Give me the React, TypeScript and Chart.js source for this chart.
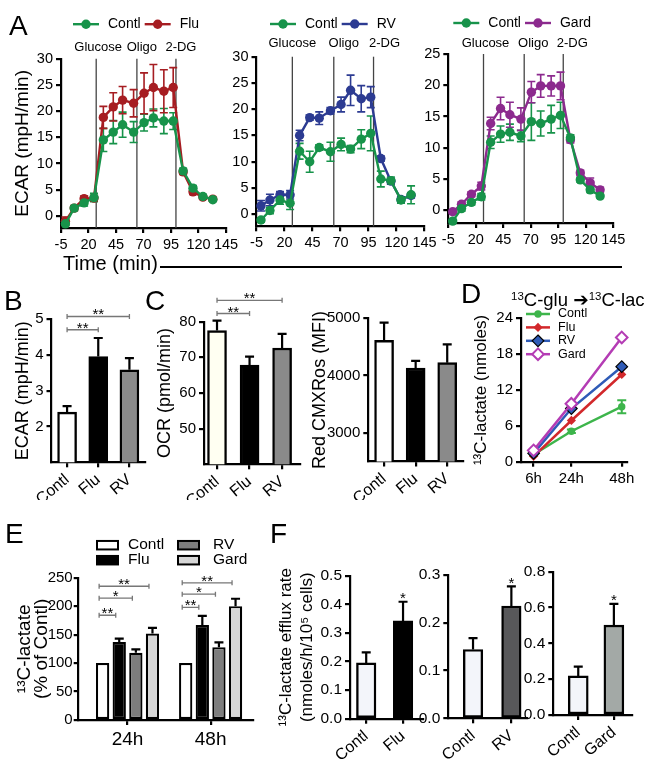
import React, { useEffect, useRef } from "react";
import { Chart, registerables } from "chart.js";

Chart.register(...registerables);

const FONT = "'Liberation Sans', Arial, Helvetica, sans-serif";

// ---------------- Panel A: ECAR time courses ----------------
const timeMin = [-1, 7, 16, 25, 33.5, 42.5, 51, 61, 70.5, 79, 88.5, 97, 106, 115, 124, 133];
const injectionTimes = [27, 64, 99.5];
const injectionLabels = ["Glucose", "Oligo", "2-DG"];
const timeTicks = [-5, 20, 45, 70, 95, 120, 145];
const ecarTicksA12 = [0, 5, 10, 15, 20, 25, 30];
const ecarTicksA3 = [0, 5, 10, 15, 20, 25];

const a1Contl = [-1.5, 1.5, 2.5, 3.5, 14.5, 16.0, 17.4, 16.0, 17.8, 18.7, 18.1, 18.1, 8.6, 5.3, 3.7, 3.1];
const a1ContlErr = [0.3, 0.5, 0.6, 0.8, 2.2, 2.2, 2.4, 2.0, 1.6, 1.7, 2.4, 1.6, 0.5, 0.5, 0.4, 0.3];
const a1Flu = [-1.0, 1.5, 3.3, 3.4, 18.8, 20.8, 22.1, 21.5, 23.4, 24.5, 23.8, 24.5, 8.4, 4.6, 3.6, 3.2];
const a1FluErr = [0.8, 0.4, 0.5, 0.5, 2.1, 2.7, 2.6, 2.6, 3.9, 4.4, 4.1, 3.8, 0.5, 0.5, 0.4, 0.3];

const a2Contl = [-1.1, 0.7, 2.7, 2.1, 12.0, 10.0, 12.7, 11.9, 13.3, 12.4, 14.3, 15.4, 6.7, 6.4, 2.7, 3.7];
const a2ContlErr = [0.4, 0.6, 0.8, 1.2, 1.5, 2.0, 0.5, 1.8, 1.2, 0.7, 1.8, 3.3, 1.5, 0.7, 0.6, 1.7];
const a2RV = [1.6, 2.7, 3.7, 3.7, 15.0, 18.4, 18.3, 19.7, 20.9, 23.6, 22.0, 22.3, 10.6, 6.3, 2.8, 3.6];
const a2RVErr = [1.0, 1.1, 0.6, 0.8, 1.0, 0.5, 1.2, 0.6, 1.4, 2.9, 2.5, 2.0, 0.5, 0.5, 0.5, 0.5];

const a3Contl = [-1.7, 0.3, 1.3, 2.2, 10.9, 12.2, 12.5, 11.9, 14.2, 13.9, 14.6, 15.2, 11.6, 4.9, 3.3, 2.3];
const a3ContlErr = [0.3, 0.4, 0.4, 0.5, 1.0, 1.3, 1.3, 0.9, 3.0, 2.0, 2.2, 2.1, 0.5, 0.4, 0.4, 0.3];
const a3Gard = [-0.2, 1.0, 2.6, 3.9, 13.9, 16.3, 15.3, 14.6, 18.9, 19.9, 19.9, 19.9, 11.3, 6.0, 4.4, 3.3];
const a3GardErr = [0.3, 0.4, 0.4, 0.6, 1.0, 1.8, 2.0, 1.8, 1.7, 1.8, 1.6, 2.2, 0.5, 0.4, 0.8, 0.4];

// ---------------- Panels B / C ----------------
const bcCats = ["Contl", "Flu", "RV"];
const bEcar = [2.4, 3.95, 3.58];
const bEcarErr = [0.17, 0.52, 0.33];
const bTicks = [2, 3, 4, 5];
const c1Ocr = [77.5, 67.8, 72.6];
const c1OcrErr = [2.8, 2.4, 4.0];
const c1Ticks = [50, 60, 70, 80];
const c2Mfi = [4615, 4130, 4225];
const c2MfiErr = [310, 125, 320];
const c2Ticks = [3000, 4000, 5000];

// ---------------- Panel D ----------------
const dHours = [6, 24, 48];
const dHourLabels = ["6h", "24h", "48h"];
const dTicks = [0, 6, 12, 18, 24];
const dContl = [1.2, 5.1, 9.2];
const dContlErr = [0.2, 0.3, 1.1];
const dFlu = [0.9, 6.9, 14.6];
const dRV = [1.4, 8.9, 15.9];
const dGard = [1.9, 9.7, 20.8];

// ---------------- Panel E ----------------
const eGroups = ["24h", "48h"];
const eContl = [100, 100];
const eFlu = [137, 167];
const eFluErr = [6, 16];
const eRV = [118, 128];
const eRVErr = [6, 8.5];
const eGard = [152, 200];
const eGardErr = [10, 13];
const eTicks = [0, 50, 100, 150, 200, 250];

// ---------------- Panel F ----------------
const f1Cats = ["Contl", "Flu"];
const f1Vals = [0.195, 0.342];
const f1Err = [0.037, 0.067];
const f1Ticks = [0, 0.1, 0.2, 0.3, 0.4, 0.5];
const f2Cats = ["Contl", "RV"];
const f2Vals = [0.144, 0.235];
const f2Err = [0.024, 0.041];
const f2Ticks = [0, 0.1, 0.2, 0.3];
const f3Cats = ["Contl", "Gard"];
const f3Vals = [0.218, 0.502];
const f3Err = [0.052, 0.118];
const f3Ticks = [0, 0.2, 0.4, 0.6, 0.8];

// ---------------- colours ----------------
const GREEN_A = "#17934a";
const RED_A = "#a61d22";
const BLUE_A = "#2c3b92";
const PURPLE_A = "#8c2a8e";
const GREEN_D = "#3db54b";
const RED_D = "#d2282b";
const BLUE_D = "#2f5bb7";
const PURPLE_D = "#b43cb4";

type Box = { x: number; y: number; w: number; h: number };
type Plot = { l: number; t: number; r: number; b: number };

function frame(box: Box, plot: Plot) {
  return {
    layout: { padding: { top: plot.t - box.y, right: box.x + box.w - plot.r, left: 0, bottom: 0 } },
    yWidth: plot.l - box.x,
    xHeight: box.y + box.h - plot.b,
  };
}

function axisLines(width: number, tickLen = 5) {
  return {
    border: { display: true, color: "#000", width },
    grid: {
      display: true,
      drawOnChartArea: false,
      drawTicks: true,
      tickLength: tickLen,
      color: "#000",
      lineWidth: width,
      offset: false,
    },
  };
}

function yScale(o: any) {
  const lh = o.titleLH ?? 1.2;
  return {
    type: "linear",
    position: "left",
    min: o.min,
    max: o.max,
    ...axisLines(2.2, o.tickLen ?? 5),
    afterBuildTicks: (ax: any) => {
      ax.ticks = o.ticks.map((v: number) => ({ value: v }));
    },
    afterFit: (ax: any) => {
      ax.width = o.fitWidth;
    },
    ticks: {
      color: "#000",
      font: { family: FONT, size: o.size },
      padding: o.pad ?? 3,
      callback: (v: any) => (o.fmt ? o.fmt(v) : String(v)),
    },
    title: o.title
      ? {
          display: true,
          text: o.title,
          color: "#000",
          font: { family: FONT, size: o.titleSize, lineHeight: lh },
          padding: { top: o.titleCenter - o.boxX - (o.titleSize * lh) / 2, bottom: 0 },
        }
      : { display: false },
  };
}

function xScale(o: any) {
  return {
    type: "linear",
    position: "bottom",
    min: o.min,
    max: o.max,
    offset: false,
    ...axisLines(2.2),
    afterBuildTicks: (ax: any) => {
      ax.ticks = o.ticks.map((v: number) => ({ value: v }));
    },
    afterFit: (ax: any) => {
      ax.height = o.fitHeight;
    },
    ticks: {
      color: "#000",
      font: { family: FONT, size: o.size },
      padding: 3,
      autoSkip: false,
      maxRotation: o.rotation || 0,
      minRotation: o.rotation || 0,
      callback: (v: any) => (o.label ? o.label(v) : String(v)),
    },
  };
}

function drawMarker(ctx: CanvasRenderingContext2D, m: any, x: number, y: number) {
  ctx.beginPath();
  if (m.shape === "diamond") {
    ctx.moveTo(x, y - m.r);
    ctx.lineTo(x + m.r, y);
    ctx.lineTo(x, y + m.r);
    ctx.lineTo(x - m.r, y);
    ctx.closePath();
  } else {
    ctx.arc(x, y, m.r, 0, Math.PI * 2);
  }
  ctx.fillStyle = m.fill;
  ctx.fill();
  if (m.stroke) {
    ctx.strokeStyle = m.stroke;
    ctx.lineWidth = m.strokeW;
    ctx.stroke();
  }
}

function rawVal(raw: any) {
  return typeof raw === "number" ? raw : raw.y;
}

function makeDecor(d: any) {
  return {
    id: "decor",
    beforeDatasetsDraw(chart: any) {
      const ctx = chart.ctx as CanvasRenderingContext2D;
      const ca = chart.chartArea;
      const xs = chart.scales.x;
      const ys = chart.scales.y;
      ctx.save();
      if (d.vlines) {
        ctx.strokeStyle = d.vlines.color;
        ctx.lineWidth = d.vlines.width;
        for (const v of d.vlines.values) {
          const px = xs.getPixelForValue(v);
          ctx.beginPath();
          ctx.moveTo(px, ca.top);
          ctx.lineTo(px, ca.bottom);
          ctx.stroke();
        }
      }
      if (d.errorBars) {
        const eb = d.errorBars;
        chart.data.datasets.forEach((ds: any, i: number) => {
          if (!ds.errors) return;
          const meta = chart.getDatasetMeta(i);
          ctx.strokeStyle = eb.color || ds.borderColor;
          ctx.lineWidth = eb.width;
          meta.data.forEach((el: any, j: number) => {
            const e = ds.errors[j];
            if (!e) return;
            const v = rawVal(ds.data[j]);
            const top = ys.getPixelForValue(v + e);
            const bot = ys.getPixelForValue(eb.both ? v - e : v);
            const h = eb.cap / 2;
            ctx.beginPath();
            ctx.moveTo(el.x, top);
            ctx.lineTo(el.x, bot);
            ctx.moveTo(el.x - h, top);
            ctx.lineTo(el.x + h, top);
            if (eb.both) {
              ctx.moveTo(el.x - h, bot);
              ctx.lineTo(el.x + h, bot);
            }
            ctx.stroke();
          });
        });
      }
      ctx.restore();
    },
    afterDraw(chart: any) {
      const ctx = chart.ctx as CanvasRenderingContext2D;
      const ca = chart.chartArea;
      const xs = chart.scales.x;
      const ys = chart.scales.y;
      ctx.save();
      if (d.vlabels && d.vlines) {
        ctx.font = `${d.vlabels.size}px ${FONT}`;
        ctx.fillStyle = "#000";
        ctx.textAlign = "center";
        ctx.textBaseline = "middle";
        d.vlabels.labels.forEach((lab: string, i: number) => {
          ctx.fillText(lab, xs.getPixelForValue(d.vlines.values[i]) + d.vlabels.dx[i], ca.top + d.vlabels.dy);
        });
      }
      if (d.lineLegend) {
        const lg = d.lineLegend;
        let x = ca.left + lg.dx;
        let y = ca.top + lg.dy;
        for (const it of lg.items) {
          ctx.strokeStyle = it.color;
          ctx.lineWidth = lg.lineW;
          ctx.beginPath();
          ctx.moveTo(x, y);
          ctx.lineTo(x + lg.lineLen, y);
          ctx.stroke();
          drawMarker(ctx, it.marker, x + lg.lineLen / 2, y);
          ctx.font = `${lg.size}px ${FONT}`;
          ctx.textAlign = "left";
          ctx.textBaseline = "middle";
          ctx.fillStyle = "#000";
          const tx = x + lg.lineLen + lg.gap;
          ctx.fillText(it.label, tx, y);
          if (lg.rowH) y += lg.rowH;
          else x = tx + ctx.measureText(it.label).width + lg.itemGap;
        }
      }
      if (d.boxLegend) {
        const bl = d.boxLegend;
        ctx.font = `${bl.size}px ${FONT}`;
        ctx.textAlign = "left";
        ctx.textBaseline = "middle";
        for (const it of bl.items) {
          const bx = ca.left + bl.colX[it.col];
          const by = ca.top + bl.rowY[it.row];
          ctx.fillStyle = it.fill;
          ctx.fillRect(bx, by - bl.boxH / 2, bl.boxW, bl.boxH);
          ctx.strokeStyle = "#000";
          ctx.lineWidth = bl.borderW;
          ctx.strokeRect(bx, by - bl.boxH / 2, bl.boxW, bl.boxH);
          ctx.fillStyle = "#000";
          ctx.fillText(it.label, ca.left + bl.textX[it.col], by);
        }
      }
      if (d.brackets) {
        const bs = d.bracketStyle;
        for (const br of d.brackets) {
          const xa = chart.getDatasetMeta(br.a[0]).data[br.a[1]].x + bs.shift;
          const xb = chart.getDatasetMeta(br.b[0]).data[br.b[1]].x + bs.shift;
          const py = ys.getPixelForValue(br.y);
          ctx.strokeStyle = bs.color;
          ctx.lineWidth = bs.width;
          ctx.beginPath();
          ctx.moveTo(xa, py);
          ctx.lineTo(xb, py);
          ctx.moveTo(xa, py - bs.tick);
          ctx.lineTo(xa, py + bs.tick);
          ctx.moveTo(xb, py - bs.tick);
          ctx.lineTo(xb, py + bs.tick);
          ctx.stroke();
          ctx.fillStyle = "#000";
          ctx.font = `${bs.size}px ${FONT}`;
          ctx.textAlign = "center";
          ctx.textBaseline = "alphabetic";
          ctx.fillText(br.label, (xa + xb) / 2, py + bs.labelDy);
        }
      }
      if (d.stars) {
        ctx.fillStyle = "#000";
        ctx.font = `${d.starSize}px ${FONT}`;
        ctx.textAlign = "center";
        ctx.textBaseline = "alphabetic";
        for (const st of d.stars) {
          const ds = chart.data.datasets[st.ds];
          const el = chart.getDatasetMeta(st.ds).data[st.idx];
          const v = rawVal(ds.data[st.idx]);
          const e = ds.errors ? ds.errors[st.idx] : 0;
          ctx.fillText(st.label, el.x, ys.getPixelForValue(v + e) + d.starDy);
        }
      }
      ctx.restore();
    },
  };
}

function baseOptions(layout: any) {
  return {
    responsive: false,
    maintainAspectRatio: false,
    animation: false,
    devicePixelRatio: 1,
    events: [],
    layout,
    plugins: { legend: { display: false }, tooltip: { enabled: false }, title: { display: false } },
  };
}

// ---------- Panel A spec ----------
function timecourseSpec(p: any) {
  const f = frame(p.box, p.plot);
  return {
    box: p.box,
    config: {
      type: "line",
      data: {
        datasets: p.series.map((s: any) => ({
          label: s.label,
          data: timeMin.map((t, i) => ({ x: t, y: s.values[i] })),
          errors: s.errors,
          borderColor: s.color,
          backgroundColor: s.color,
          pointBackgroundColor: s.color,
          pointBorderColor: s.color,
          pointBorderWidth: 0,
          pointRadius: 4.7,
          borderWidth: 2.4,
          tension: 0,
          clip: false,
        })),
      },
      options: {
        ...baseOptions(f.layout),
        scales: {
          x: xScale({ min: -5, max: 145, ticks: timeTicks, size: 14.5, fitHeight: f.xHeight }),
          y: yScale({
            min: p.yMin,
            max: p.yMax,
            ticks: p.yTicks,
            size: 14.5,
            fitWidth: f.yWidth,
            title: p.title,
            titleSize: 19,
            titleCenter: 23,
            boxX: p.box.x,
          }),
        },
      },
      plugins: [
        makeDecor({
          vlines: { values: injectionTimes, color: "#444", width: 1.3 },
          vlabels: { labels: injectionLabels, dx: p.vlabDx, dy: p.vlabDy, size: 13 },
          errorBars: { both: true, cap: 8, width: 1.6 },
          lineLegend: {
            dx: p.legDx,
            dy: p.legDy,
            size: 14,
            lineLen: 26,
            gap: 9,
            itemGap: 4,
            lineW: 2.4,
            items: p.series.map((s: any) => ({
              label: s.label,
              color: s.color,
              marker: { shape: "circle", r: 4.7, fill: s.color },
            })),
          },
        }),
      ],
    },
  };
}

// ---------- simple bar spec (B, C, F) ----------
function barSpec(p: any) {
  const f = frame(p.box, p.plot);
  return {
    box: p.box,
    config: {
      type: "bar",
      data: {
        datasets: [
          {
            data: p.cats.map((_: string, i: number) => ({ x: i, y: p.values[i] })),
            errors: p.errors,
            backgroundColor: p.colors,
            borderColor: "#000",
            borderWidth: 2.4,
            borderSkipped: false,
            barThickness: p.barW,
          },
        ],
      },
      options: {
        ...baseOptions(f.layout),
        scales: {
          x: xScale({
            min: p.xMin,
            max: p.xMax,
            ticks: p.cats.map((_: string, i: number) => i),
            label: (v: number) => p.cats[Math.round(v)] ?? "",
            size: p.labelSize,
            fitHeight: f.xHeight,
            rotation: 40,
          }),
          y: yScale({
            min: p.yMin,
            max: p.yMax,
            ticks: p.yTicks,
            fmt: p.fmt,
            size: p.tickSize,
            fitWidth: f.yWidth,
            title: p.title,
            titleSize: p.titleSize,
            titleCenter: p.titleCenter,
            titleLH: p.titleLH,
            boxX: p.box.x,
          }),
        },
      },
      plugins: [
        makeDecor({
          errorBars: { both: false, cap: 9, width: 2.2, color: "#000" },
          brackets: p.brackets,
          bracketStyle: { color: "#777", width: 1.3, tick: 2.5, size: 15, shift: 0, labelDy: 3 },
          stars: p.stars,
          starSize: 15,
          starDy: 1.5,
        }),
      ],
    },
  };
}

function buildSpecs() {
  const specs: any[] = [];
  specs.push(
    timecourseSpec({
      box: { x: 0, y: 0, w: 245, h: 258 },
      plot: { l: 61, t: 58.7, r: 226, b: 228 },
      yMin: -2.3,
      yMax: 30,
      yTicks: ecarTicksA12,
      title: "ECAR (mpH/min)",
      series: [
        { label: "Contl", values: a1Contl, errors: a1ContlErr, color: GREEN_A },
        { label: "Flu", values: a1Flu, errors: a1FluErr, color: RED_A },
      ],
      legDx: 12,
      legDy: -34.5,
      vlabDx: [2, 5, 5],
      vlabDy: -11,
    })
  );
  specs.push(
    timecourseSpec({
      box: { x: 222, y: 0, w: 222, h: 256 },
      plot: { l: 256.5, t: 56.7, r: 424.5, b: 226.3 },
      yMin: -2.3,
      yMax: 30,
      yTicks: ecarTicksA12,
      series: [
        { label: "Contl", values: a2Contl, errors: a2ContlErr, color: GREEN_A },
        { label: "RV", values: a2RV, errors: a2RVErr, color: BLUE_A },
      ],
      legDx: 13.5,
      legDy: -32.7,
      vlabDx: [0, 10, 11],
      vlabDy: -13.5,
    })
  );
  specs.push(
    timecourseSpec({
      box: { x: 415, y: 0, w: 218, h: 253 },
      plot: { l: 448.3, t: 54, r: 613.3, b: 223 },
      yMin: -2,
      yMax: 25,
      yTicks: ecarTicksA3,
      series: [
        { label: "Contl", values: a3Contl, errors: a3ContlErr, color: GREEN_A },
        { label: "Gard", values: a3Gard, errors: a3GardErr, color: PURPLE_A },
      ],
      legDx: 5,
      legDy: -31,
      vlabDx: [2, 9, 9],
      vlabDy: -10.5,
    })
  );

  // B
  specs.push(
    barSpec({
      box: { x: 0, y: 290, w: 160, h: 210 },
      plot: { l: 51.5, t: 319, r: 145, b: 462.3 },
      cats: bcCats,
      values: bEcar,
      errors: bEcarErr,
      colors: ["#ffffff", "#000000", "#8a8a8a"],
      xMin: -0.5,
      xMax: 2.5,
      yMin: 1,
      yMax: 5,
      yTicks: bTicks,
      tickSize: 15,
      labelSize: 16,
      barW: 19,
      title: "ECAR (mpH/min)",
      titleSize: 18,
      titleCenter: 23,
      brackets: [
        { a: [0, 0], b: [0, 1], y: 4.7, label: "**" },
        { a: [0, 0], b: [0, 2], y: 5.07, label: "**" },
      ],
    })
  );
  // C1
  specs.push(
    barSpec({
      box: { x: 148, y: 285, w: 167, h: 215 },
      plot: { l: 204, t: 321.7, r: 300, b: 464.3 },
      cats: bcCats,
      values: c1Ocr,
      errors: c1OcrErr,
      colors: ["#fffff2", "#000000", "#8a8a8a"],
      xMin: -0.4,
      xMax: 2.55,
      yMin: 40,
      yMax: 80,
      yTicks: c1Ticks,
      tickSize: 15,
      labelSize: 16,
      barW: 19,
      title: "OCR (pmol/min)",
      titleSize: 18,
      titleCenter: 165,
      brackets: [
        { a: [0, 0], b: [0, 1], y: 82.3, label: "**" },
        { a: [0, 0], b: [0, 2], y: 86, label: "**" },
      ],
    })
  );
  // C2
  specs.push(
    barSpec({
      box: { x: 305, y: 290, w: 173, h: 210 },
      plot: { l: 368.3, t: 318.3, r: 463, b: 461.5 },
      cats: bcCats,
      values: c2Mfi,
      errors: c2MfiErr,
      colors: ["#ffffff", "#000000", "#8a8a8a"],
      xMin: -0.5,
      xMax: 2.5,
      yMin: 2500,
      yMax: 5000,
      yTicks: c2Ticks,
      tickSize: 15,
      labelSize: 16,
      barW: 19,
      title: "Red CMXRos (MFI)",
      titleSize: 18,
      titleCenter: 320,
    })
  );

  // D
  {
    const box = { x: 458, y: 290, w: 196, h: 210 };
    const plot = { l: 521, t: 318.3, r: 627, b: 461.7 };
    const f = frame(box, plot);
    const mk = (vals: number[]) => dHours.map((h, i) => ({ x: h, y: vals[i] }));
    const dSeries = [
      { label: "Contl", color: GREEN_D, marker: { shape: "circle", r: 3.7, fill: GREEN_D } },
      { label: "Flu", color: RED_D, marker: { shape: "diamond", r: 4.6, fill: RED_D } },
      { label: "RV", color: BLUE_D, marker: { shape: "diamond", r: 5.8, fill: BLUE_D, stroke: "#000", strokeW: 1.2 } },
      { label: "Gard", color: PURPLE_D, marker: { shape: "diamond", r: 5.8, fill: "#fff", stroke: PURPLE_D, strokeW: 2 } },
    ];
    specs.push({
      box,
      config: {
        type: "line",
        data: {
          datasets: [
            {
              label: "Contl",
              data: mk(dContl),
              errors: dContlErr,
              borderColor: GREEN_D,
              backgroundColor: GREEN_D,
              pointStyle: "circle",
              pointRadius: 3.7,
              pointBorderWidth: 0,
              borderWidth: 2.5,
              order: 3,
              clip: false,
            },
            {
              label: "Flu",
              data: mk(dFlu),
              borderColor: RED_D,
              backgroundColor: RED_D,
              pointStyle: "rectRot",
              pointRadius: 4.6,
              pointBorderWidth: 0,
              borderWidth: 2.5,
              order: 2,
              clip: false,
            },
            {
              label: "RV",
              data: mk(dRV),
              borderColor: BLUE_D,
              backgroundColor: BLUE_D,
              pointStyle: "rectRot",
              pointRadius: 5.8,
              pointBorderColor: "#000",
              pointBackgroundColor: BLUE_D,
              pointBorderWidth: 1.2,
              borderWidth: 2.5,
              order: 1,
              clip: false,
            },
            {
              label: "Gard",
              data: mk(dGard),
              borderColor: PURPLE_D,
              backgroundColor: "#fff",
              pointStyle: "rectRot",
              pointRadius: 5.8,
              pointBorderColor: PURPLE_D,
              pointBackgroundColor: "#fff",
              pointBorderWidth: 2,
              borderWidth: 2.5,
              order: 0,
              clip: false,
            },
          ],
        },
        options: {
          ...baseOptions(f.layout),
          scales: {
            x: xScale({
              min: 0,
              max: 50.5,
              ticks: dHours,
              label: (v: number) => dHourLabels[dHours.indexOf(v)] ?? "",
              size: 15,
              fitHeight: f.xHeight,
            }),
            y: yScale({
              min: 0,
              max: 24,
              ticks: dTicks,
              size: 15,
              fitWidth: f.yWidth,
              title: "¹³C-lactate (nmoles)",
              titleSize: 17,
              titleCenter: 481,
              boxX: box.x,
            }),
          },
        },
        plugins: [
          makeDecor({
            errorBars: { both: true, cap: 9, width: 2 },
            lineLegend: {
              dx: 5,
              dy: -4.3,
              size: 12.5,
              lineLen: 24,
              gap: 8,
              itemGap: 0,
              rowH: 13.4,
              lineW: 2.5,
              items: dSeries,
            },
          }),
        ],
      },
    });
  }

  // E
  {
    const box = { x: 0, y: 528, w: 262, h: 234 };
    const plot = { l: 77.7, t: 577.7, r: 253, b: 720 };
    const f = frame(box, plot);
    const mk = (vals: number[]) => eGroups.map((_, i) => ({ x: i + 1, y: vals[i] }));
    const common = { borderColor: "#000", borderWidth: 2.2, borderSkipped: false, categoryPercentage: 0.8, barPercentage: 0.8 };
    specs.push({
      box,
      config: {
        type: "bar",
        data: {
          datasets: [
            { label: "Contl", data: mk(eContl), backgroundColor: "#ffffff", ...common },
            { label: "Flu", data: mk(eFlu), errors: eFluErr, backgroundColor: "#000000", ...common },
            { label: "RV", data: mk(eRV), errors: eRVErr, backgroundColor: "#7d7d7d", ...common },
            { label: "Gard", data: mk(eGard), errors: eGardErr, backgroundColor: "#d6d6d6", ...common },
          ],
        },
        options: {
          ...baseOptions(f.layout),
          scales: {
            x: xScale({
              min: 0.4,
              max: 2.51,
              ticks: [1, 2],
              label: (v: number) => eGroups[Math.round(v) - 1] ?? "",
              size: 19,
              fitHeight: f.xHeight,
            }),
            y: yScale({
              min: 0,
              max: 250,
              ticks: eTicks,
              size: 15,
              pad: 1,
              tickLen: 4,
              fitWidth: f.yWidth,
              title: ["¹³C-lactate", "(% of Contl)"],
              titleSize: 19,
              titleLH: 0.92,
              titleCenter: 24.5,
              boxX: box.x,
            }),
          },
        },
        plugins: [
          makeDecor({
            errorBars: { both: false, cap: 9, width: 2.2, color: "#000" },
            brackets: [
              { a: [0, 0], b: [1, 0], y: 184, label: "**" },
              { a: [0, 0], b: [2, 0], y: 214, label: "*" },
              { a: [0, 0], b: [3, 0], y: 235, label: "**" },
              { a: [0, 1], b: [1, 1], y: 198, label: "**" },
              { a: [0, 1], b: [2, 1], y: 221, label: "*" },
              { a: [0, 1], b: [3, 1], y: 241, label: "**" },
            ],
            bracketStyle: { color: "#777", width: 1.3, tick: 2.5, size: 15, shift: -3.5, labelDy: 3 },
            boxLegend: {
              size: 15.5,
              colX: [19.3, 100.3],
              textX: [50.3, 135.3],
              rowY: [-32.5, -17.5],
              boxW: 21,
              boxH: 8.5,
              borderW: 2,
              items: [
                { label: "Contl", fill: "#ffffff", col: 0, row: 0 },
                { label: "Flu", fill: "#000000", col: 0, row: 1 },
                { label: "RV", fill: "#7d7d7d", col: 1, row: 0 },
                { label: "Gard", fill: "#d6d6d6", col: 1, row: 1 },
              ],
            },
          }),
        ],
      },
    });
  }

  // F
  const fmt1 = (v: number) => v.toFixed(1);
  specs.push(
    barSpec({
      box: { x: 268, y: 560, w: 165, h: 202 },
      plot: { l: 350, t: 575.7, r: 423.3, b: 718.7 },
      cats: f1Cats,
      values: f1Vals,
      errors: f1Err,
      colors: ["#f3f5fa", "#000000"],
      xMin: -0.44,
      xMax: 1.55,
      yMin: 0,
      yMax: 0.5,
      yTicks: f1Ticks,
      fmt: fmt1,
      tickSize: 15.5,
      labelSize: 16,
      barW: 19.5,
      title: ["¹³C-lactate efflux rate", "(nmoles/h/10⁵ cells)"],
      titleSize: 17,
      titleLH: 1.25,
      titleCenter: 286,
      stars: [{ ds: 0, idx: 1, label: "*" }],
    })
  );
  specs.push(
    barSpec({
      box: { x: 414, y: 560, w: 123, h: 202 },
      plot: { l: 448.3, t: 575, r: 526.7, b: 718.3 },
      cats: f2Cats,
      values: f2Vals,
      errors: f2Err,
      colors: ["#f3f5fa", "#58585a"],
      xMin: -0.645,
      xMax: 1.4,
      yMin: 0,
      yMax: 0.3,
      yTicks: f2Ticks,
      fmt: fmt1,
      tickSize: 15.5,
      labelSize: 16,
      barW: 19.5,
      stars: [{ ds: 0, idx: 1, label: "*" }],
    })
  );
  specs.push(
    barSpec({
      box: { x: 518, y: 556, w: 134, h: 206 },
      plot: { l: 553.3, t: 571.7, r: 631.7, b: 715 },
      cats: f3Cats,
      values: f3Vals,
      errors: f3Err,
      colors: ["#f3f5fa", "#a3a9a6"],
      xMin: -0.7,
      xMax: 1.5,
      yMin: 0,
      yMax: 0.8,
      yTicks: f3Ticks,
      fmt: fmt1,
      tickSize: 15.5,
      labelSize: 16,
      barW: 20,
      stars: [{ ds: 0, idx: 1, label: "*" }],
    })
  );
  return specs;
}

function ChartCanvas({ box, config }: { box: Box; config: any }) {
  const ref = useRef<HTMLCanvasElement | null>(null);
  useEffect(() => {
    const chart = new Chart(ref.current as HTMLCanvasElement, config);
    return () => chart.destroy();
  }, []);
  return (
    <canvas
      ref={ref}
      width={box.w}
      height={box.h}
      style={{ position: "absolute", left: box.x, top: box.y, width: box.w, height: box.h }}
    />
  );
}

const panelLetters = [
  { t: "A", x: 9, y: 11.5 },
  { t: "B", x: 4, y: 286.5 },
  { t: "C", x: 145, y: 286.5 },
  { t: "D", x: 461, y: 280 },
  { t: "E", x: 5, y: 519.5 },
  { t: "F", x: 270, y: 519.5 },
];

const supStyle: React.CSSProperties = { fontSize: "0.62em", position: "relative", top: "-0.55em" };

export default function App() {
  const specs = React.useMemo(buildSpecs, []);
  return (
    <div
      style={{
        position: "absolute",
        left: 0,
        top: 0,
        width: 654,
        height: 762,
        background: "#fff",
        overflow: "hidden",
        fontFamily: FONT,
        color: "#000",
      }}
    >
      {specs.map((s: any, i: number) => (
        <ChartCanvas key={i} box={s.box} config={s.config} />
      ))}
      {panelLetters.map((p) => (
        <div
          key={p.t}
          style={{ position: "absolute", left: p.x, top: p.y, fontSize: 28, lineHeight: "28px", whiteSpace: "nowrap" }}
        >
          {p.t}
        </div>
      ))}
      <div style={{ position: "absolute", left: 63, top: 253, fontSize: 20, lineHeight: "20px", whiteSpace: "nowrap" }}>
        Time (min)
      </div>
      <div style={{ position: "absolute", left: 160, top: 266, width: 462, height: 2, background: "#000" }} />
      <div style={{ position: "absolute", left: 511, top: 289, fontSize: 18.5, lineHeight: "22px", whiteSpace: "nowrap" }}>
        <span style={supStyle}>13</span>C-glu <span style={{ fontFamily: "'DejaVu Sans', sans-serif" }}>➔</span>
        <span style={supStyle}>13</span>C-lac
      </div>
    </div>
  );
}
